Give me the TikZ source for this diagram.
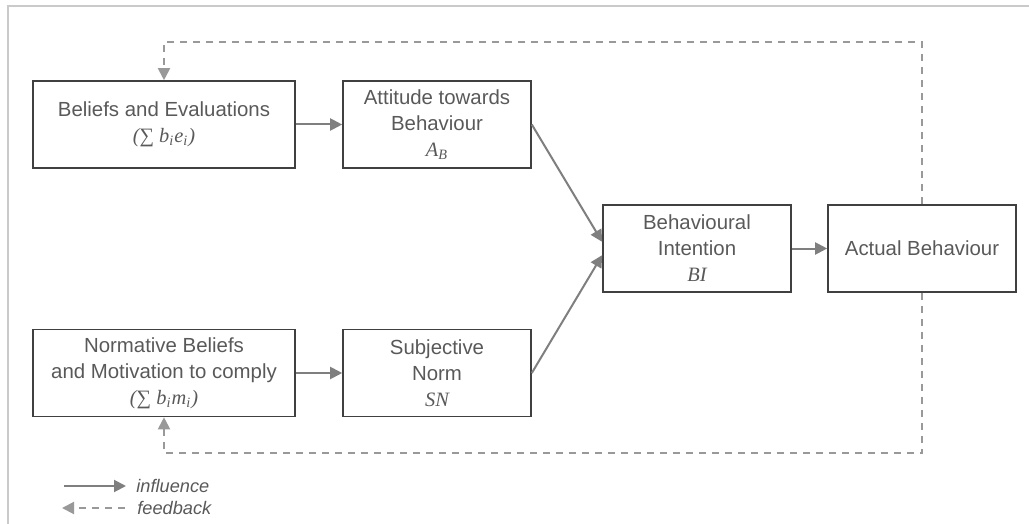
\documentclass[tikz,border=0pt]{standalone}
\usepackage{fontspec}
\setmainfont{Liberation Sans}
\newfontfamily\serifmath{Liberation Serif}
\usetikzlibrary{positioning,calc,arrows.meta}

\definecolor{boxline}{HTML}{404040}
\definecolor{txtgray}{HTML}{595959}
\definecolor{arrgray}{HTML}{7F7F7F}
\definecolor{dashgray}{HTML}{999999}
\definecolor{framegray}{HTML}{CACACA}
\newcommand{\formula}[1]{{\serifmath\itshape #1}}

\begin{document}
\begin{tikzpicture}[on grid,
box/.style={draw=boxline,line width=0.8pt,text=txtgray,align=center,inner sep=0pt,minimum height=43.5pt,font=\fontsize{10.2}{13}\selectfont},
widebox/.style={box,minimum width=131pt},
narrowbox/.style={box,minimum width=94pt},
influence/.style={draw=arrgray,line width=1pt,-{Triangle[length=6pt,width=6pt]}},
feedback/.style={influence,draw=dashgray,dash pattern=on 3.5pt off 3pt},
legend/.style={text=txtgray,inner sep=0pt,font=\fontsize{9.1}{11}\selectfont\itshape}]
\useasboundingbox (0,0) rectangle (514.5pt,-262pt);
\draw[framegray,line width=0.75pt] (4pt,-270pt) |- (520pt,-3pt);

\node[widebox] (bel) at (82pt,-62.25pt) {Beliefs and Evaluations\\ \formula{({\upshape ∑} b\textsubscript{i}e\textsubscript{i})}};
\node[narrowbox] (att) [right=136.5pt of bel] {Attitude towards\\ Behaviour\\ \formula{A\textsubscript{B}}};
\node[widebox] (norm) [below=124.25pt of bel] {Normative Beliefs\\ and Motivation to comply\\ \formula{({\upshape ∑} b\textsubscript{i}m\textsubscript{i})}};
\node[narrowbox] (subj) [right=136.5pt of norm] {Subjective\\ Norm\\ \formula{SN}};
\node[narrowbox] (bi) [below right=62pt and 130pt of att] {Behavioural\\ Intention\\ \formula{BI}};
\node[narrowbox] (act) [right=112.5pt of bi] {Actual Behaviour};

\path
(bel) edge[influence] (att)
(norm) edge[influence] (subj)
(att.east) edge[influence] (bi.176)
(subj.east) edge[influence] (bi.184)
(bi) edge[influence] (act);

\draw[feedback] (act.north) |- ($(bel.north)+(0,19pt)$) -- (bel.north);
\draw[feedback] (act.south) |- ($(norm.south)+(0,-18pt)$) -- (norm.south);

\node[legend,anchor=west] (infl) at (68pt,-243pt) {influence};
\node[legend,anchor=west] (feed) at (68.5pt,-254pt) {feedback};
\coordinate[left=36pt of infl.west] (infl start);
\coordinate[left=37.5pt of feed.west] (feed end);
\draw[influence] (infl start) -- ($(infl.west)+(-5pt,0)$);
\draw[feedback] ($(feed.west)+(-6pt,0)$) -- (feed end);
\end{tikzpicture}
\end{document}
